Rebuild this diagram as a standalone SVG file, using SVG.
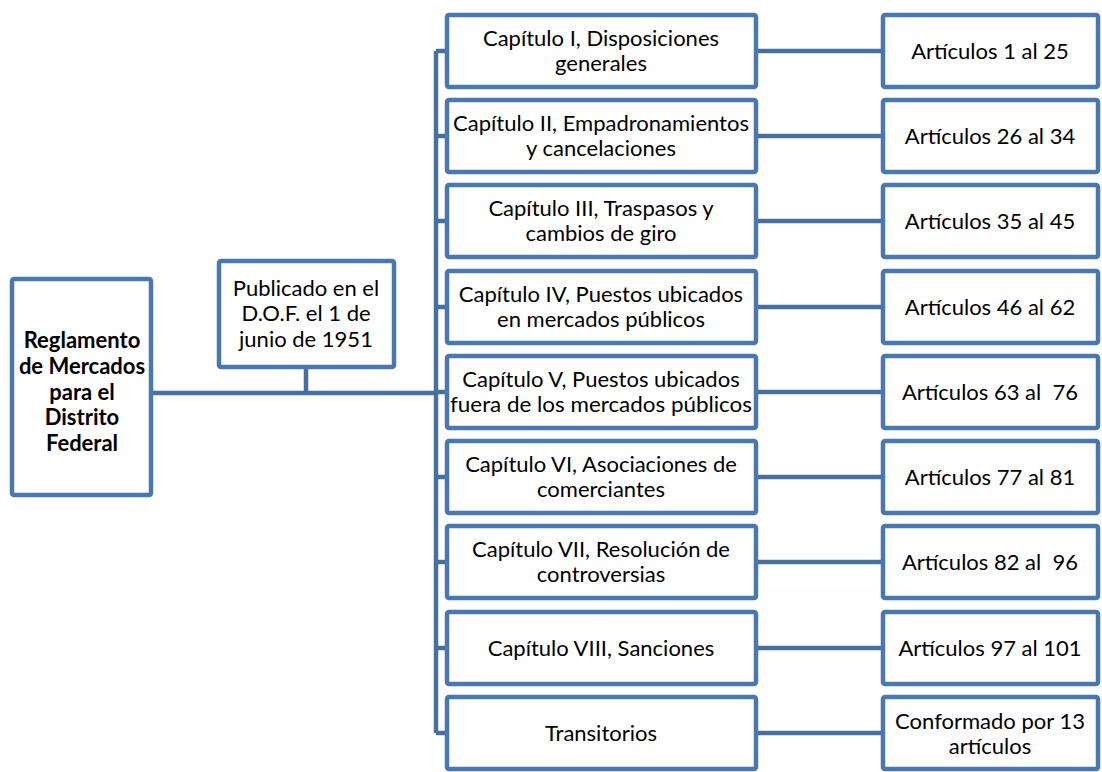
<svg xmlns="http://www.w3.org/2000/svg" width="1102" height="772" viewBox="0 0 1102 772">
<style>
.box{fill:#fff;stroke:#4a77ae;stroke-width:4.5}
.ln{fill:none;stroke:#46709f;stroke-width:4.5}
text{font-family:Lato,"Liberation Sans",sans-serif;font-size:22px;fill:#000;text-anchor:middle}
.b{font-weight:bold}
</style>
<rect width="1102" height="772" fill="#fff"/>
<g id="connectors">
<path class="ln" d="M153 393H436M306 369V393M436 51V733"/>
<path class="ln" d="M436 51H447M436 136H447M436 221H447M436 307H447M436 392H447M436 477H447M436 562H447M436 648H447M436 733H447"/>
<path class="ln" d="M756 51H883M756 136H883M756 221H883M756 307H883M756 392H883M756 477H883M756 562H883M756 648H883M756 733H883"/>
</g>
<g id="root"><rect class="box" x="12" y="279" width="139" height="216" rx="2"/>
<text class="b" x="82" y="348">Reglamento</text><text class="b" x="82" y="374">de Mercados</text><text class="b" x="82" y="400">para el</text><text class="b" x="82" y="425">Distrito</text><text class="b" x="82" y="451">Federal</text></g>
<g id="pub"><rect class="box" x="219" y="261" width="175" height="106" rx="2"/>
<text x="306" y="296">Publicado en el</text><text x="306" y="321">D.O.F. el 1 de</text><text x="306" y="347">junio de 1951</text></g>
<g id="c1"><rect class="box" x="447" y="15" width="309" height="72" rx="2"/><text x="601" y="46">Capítulo I, Disposiciones</text><text x="601" y="71">generales</text></g>
<g id="c2"><rect class="box" x="447" y="100" width="309" height="72" rx="2"/><text x="601" y="131">Capítulo II, Empadronamientos</text><text x="601" y="156">y cancelaciones</text></g>
<g id="c3"><rect class="box" x="447" y="185" width="309" height="72" rx="2"/><text x="601" y="216">Capítulo III, Traspasos y</text><text x="601" y="241">cambios de giro</text></g>
<g id="c4"><rect class="box" x="447" y="271" width="309" height="72" rx="2"/><text x="601" y="302">Capítulo IV, Puestos ubicados</text><text x="601" y="327">en mercados públicos</text></g>
<g id="c5"><rect class="box" x="447" y="356" width="309" height="72" rx="2"/><text x="601" y="387">Capítulo V, Puestos ubicados</text><text x="601" y="412" textLength="302" lengthAdjust="spacingAndGlyphs">fuera de los mercados públicos</text></g>
<g id="c6"><rect class="box" x="447" y="441" width="309" height="72" rx="2"/><text x="601" y="472">Capítulo VI, Asociaciones de</text><text x="601" y="497">comerciantes</text></g>
<g id="c7"><rect class="box" x="447" y="526" width="309" height="72" rx="2"/><text x="601" y="557">Capítulo VII, Resolución de</text><text x="601" y="582">controversias</text></g>
<g id="c8"><rect class="box" x="447" y="612" width="309" height="72" rx="2"/><text x="601" y="656">Capítulo VIII, Sanciones</text></g>
<g id="c9"><rect class="box" x="447" y="697" width="309" height="72" rx="2"/><text x="601" y="741">Transitorios</text></g>
<g id="a1"><rect class="box" x="883" y="15" width="215" height="72" rx="2"/><text x="990" y="59">Artículos 1 al 25</text></g>
<g id="a2"><rect class="box" x="883" y="100" width="215" height="72" rx="2"/><text x="990" y="144">Artículos 26 al 34</text></g>
<g id="a3"><rect class="box" x="883" y="185" width="215" height="72" rx="2"/><text x="990" y="229">Artículos 35 al 45</text></g>
<g id="a4"><rect class="box" x="883" y="271" width="215" height="72" rx="2"/><text x="990" y="315">Artículos 46 al 62</text></g>
<g id="a5"><rect class="box" x="883" y="356" width="215" height="72" rx="2"/><text x="990" y="400" xml:space="preserve">Artículos 63 al  76</text></g>
<g id="a6"><rect class="box" x="883" y="441" width="215" height="72" rx="2"/><text x="990" y="485">Artículos 77 al 81</text></g>
<g id="a7"><rect class="box" x="883" y="526" width="215" height="72" rx="2"/><text x="990" y="570" xml:space="preserve">Artículos 82 al  96</text></g>
<g id="a8"><rect class="box" x="883" y="612" width="215" height="72" rx="2"/><text x="990" y="656">Artículos 97 al 101</text></g>
<g id="a9"><rect class="box" x="883" y="697" width="215" height="72" rx="2"/><text x="990" y="729">Conformado por 13</text><text x="990" y="754">artículos</text></g>
</svg>
